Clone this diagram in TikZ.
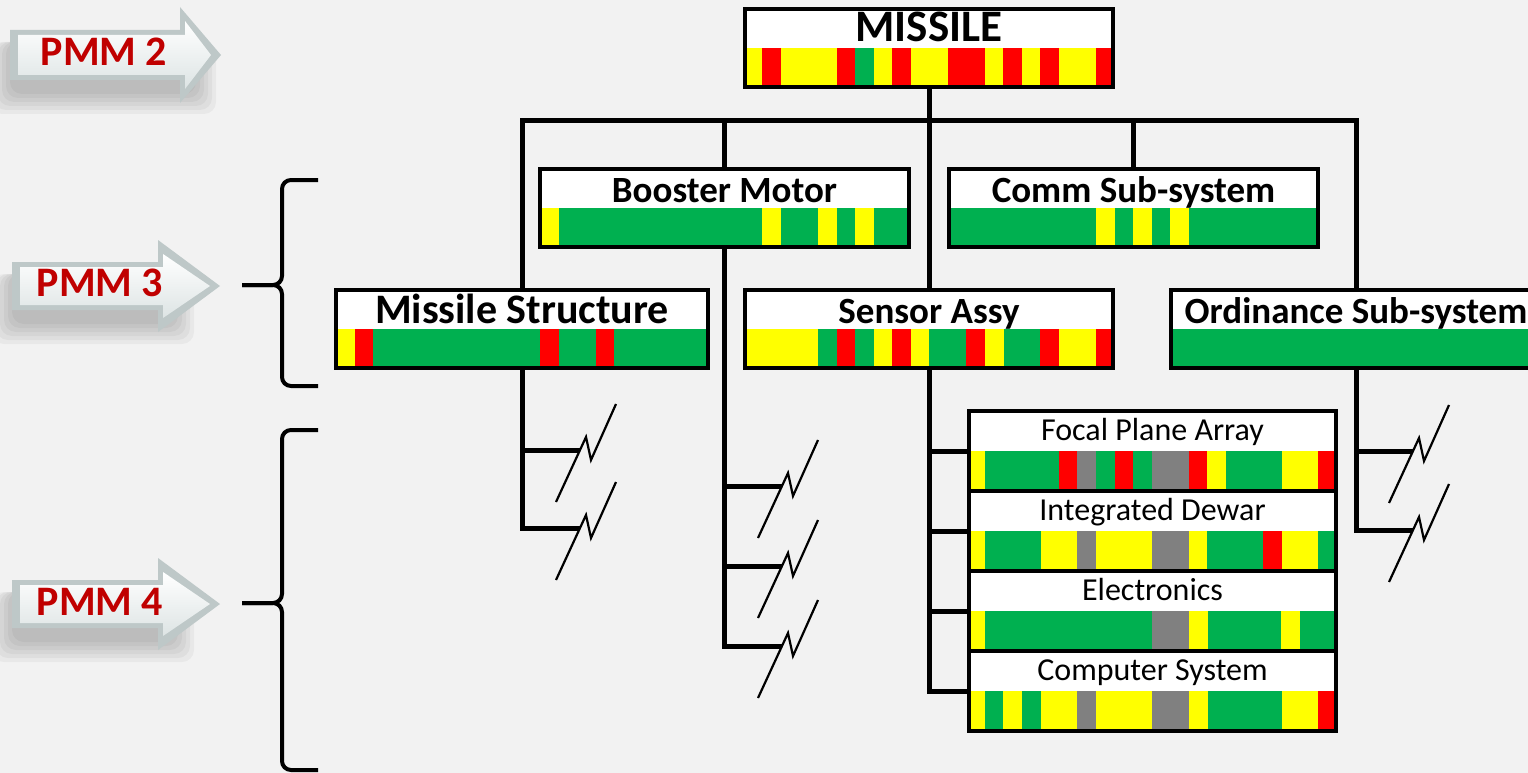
\documentclass[tikz,border=0pt]{standalone}
\usepackage{fontspec}
\setmainfont{Carlito}
\usepackage{xcolor}
\usetikzlibrary{positioning}

\definecolor{sG}{HTML}{00B050}
\definecolor{sR}{HTML}{FF0000}
\definecolor{sY}{HTML}{FFFF00}
\definecolor{sK}{HTML}{808080}
\definecolor{pagebg}{HTML}{F2F2F2}
\definecolor{pmmred}{HTML}{C00000}
\definecolor{arrowedge}{HTML}{BEC8C8}
\definecolor{arrowface}{HTML}{DDE4E4}

% status bar: top, bottom, list of x1/x2/colour
\newcommand{\statusbar}[3]{%
  \foreach \xa/\xb/\col in {#3} \fill[\col] (\xa,#1) rectangle (\xb,#2);}

% bevelled arrow: x0, yc, body half, head x, head half, tip x
\newcommand{\pmmarrow}[6]{%
  \foreach \d in {0,4,...,20}
    \fill[black, opacity=0.04, rounded corners=12pt] (#1-\d,#2-#3+12) rectangle (#4+16+\d,#2+#3+14+\d);
  \fill[arrowedge] (#1,#2-#3) -- (#4,#2-#3) -- (#4,#2-#5) -- (#6,#2) -- (#4,#2+#5) -- (#4,#2+#3) -- (#1,#2+#3) -- cycle;
  \shade[top color=white, bottom color=arrowface] (#1+8,#2-#3+5) -- (#4+5,#2-#3+5) -- (#4+5,#2-#5+14) -- (#6-10,#2) -- (#4+5,#2+#5-14) -- (#4+5,#2+#3-5) -- (#1+8,#2+#3-5) -- cycle;}

\begin{document}
\begin{tikzpicture}[
    x=1pt, y=-1pt,
    unit/.style={rectangle, fill=white, inner sep=0pt, outer sep=0pt, minimum height=78pt, text height=33pt, text depth=45pt, font=\fontsize{37}{40}\selectfont\bfseries},
    part/.style={unit, minimum height=80pt, text height=29pt, text depth=51pt, font=\fontsize{32}{35}\selectfont},
    frame/.style={draw=black, line width=4pt},
    tree/.style={draw=black, line width=5pt},
    brace/.style={draw=black, line width=4pt, rounded corners=9pt},
    pmm/.style={font=\fontsize{42}{46}\selectfont\bfseries, text=pmmred, inner sep=0pt},
    brk/.pic={\draw[black, line width=2.2pt] (-24,52) -- (0,0) -- (6,-13) -- (11,10) -- (36,-46);}
]
    \useasboundingbox (0,0) rectangle (1528,773);
    \fill[pagebg] (0,0) rectangle (1528,773);
    \clip (0,0) rectangle (1528,773);

    % PMM levels
    \pmmarrow{10}{55}{25}{180}{48}{221}
    \pmmarrow{12}{286}{24}{158}{46}{220}
    \pmmarrow{12}{604}{24}{158}{46}{220}
    \node[pmm] (pmm2) at (104,52) {PMM 2};
    \node[pmm] (pmm3) at (100,283) {PMM 3};
    \node[pmm] (pmm4) at (100,602) {PMM 4};

    \draw[brace] (318,180) -- (282,180) -- (282,285) -- (242,285);
    \draw[brace] (242,285) -- (282,285) -- (282,386) -- (318,386);
    \draw[brace] (318,430) -- (282,430) -- (282,603) -- (242,603);
    \draw[brace] (242,603) -- (282,603) -- (282,770) -- (318,770);

    % Top level
    \node[unit, minimum width=368pt, font=\fontsize{45}{48}\selectfont\bfseries] (missile) at (929,48) {MISSILE};

    % Sub-systems
    \node[unit, minimum width=369pt] (booster) at (724.5,208) {Booster Motor};
    \node[unit, minimum width=369pt] (comm) at (1133.5,208) {Comm Sub-system};
    \node[unit, minimum width=372pt, font=\fontsize{42}{45}\selectfont\bfseries] (structure) at (522,329) {Missile Structure};
    \node[unit, minimum width=368pt] (sensor) at (929,329) {Sensor Assy};
    \node[unit, minimum width=370pt] (ordinance) at (1356,329) {Ordinance Sub-system};

    % Sensor components
    \node[part, minimum width=367pt] (fpa) at (1152.5,451) {Focal Plane Array};
    \node[part, minimum width=367pt] (dewar) at (1152.5,531) {Integrated Dewar};
    \node[part, minimum width=367pt] (elec) at (1152.5,611) {Electronics};
    \node[part, minimum width=367pt] (comp) at (1152.5,691) {Computer System};

    % Status bars
    \statusbar{48}{87}{745/762/sY, 762/781/sR, 781/837/sY, 837/855/sR, 855/874/sG, 874/892/sY, 892/911/sR, 911/948/sY, 948/985/sR, 985/1003/sY, 1003/1022/sR, 1022/1040/sY, 1040/1059/sR, 1059/1096/sY, 1096/1113/sR}
    \statusbar{208}{247}{540/559/sY, 559/762/sG, 762/781/sY, 781/818/sG, 818/837/sY, 837/855/sG, 855/874/sY, 874/909/sG}
    \statusbar{208}{247}{949/1096/sG, 1096/1115/sY, 1115/1133/sG, 1133/1152/sY, 1152/1170/sG, 1170/1189/sY, 1189/1318/sG}
    \statusbar{329}{368}{336/355/sY, 355/373/sR, 373/540/sG, 540/559/sR, 559/596/sG, 596/614/sR, 614/708/sG}
    \statusbar{329}{368}{745/818/sY, 818/837/sG, 837/855/sR, 855/874/sG, 874/892/sY, 892/911/sR, 911/929/sY, 929/966/sG, 966/985/sR, 985/1004/sY, 1004/1040/sG, 1040/1059/sR, 1059/1096/sY, 1096/1113/sR}
    \statusbar{329}{368}{1171/1541/sG}
    \statusbar{451}{491}{969/985/sY, 985/1059/sG, 1059/1077/sR, 1077/1096/sK, 1096/1115/sG, 1115/1133/sR, 1133/1152/sG, 1152/1189/sK, 1189/1207/sR, 1207/1226/sY, 1226/1282/sG, 1282/1318/sY, 1318/1336/sR}
    \statusbar{531}{571}{969/985/sY, 985/1041/sG, 1041/1077/sY, 1077/1096/sK, 1096/1152/sY, 1152/1189/sK, 1189/1207/sY, 1207/1263/sG, 1263/1282/sR, 1282/1318/sY, 1318/1336/sG}
    \statusbar{611}{651}{969/985/sY, 985/1152/sG, 1152/1189/sK, 1189/1208/sY, 1208/1281/sG, 1281/1300/sY, 1300/1336/sG}
    \statusbar{691}{731}{969/985/sY, 985/1003/sG, 1003/1022/sY, 1022/1041/sG, 1041/1077/sY, 1077/1096/sK, 1096/1152/sY, 1152/1189/sK, 1189/1208/sY, 1208/1282/sG, 1282/1318/sY, 1318/1336/sR}

    \foreach \n in {missile,booster,comm,structure,sensor,ordinance,fpa,dewar,elec,comp}
        \draw[frame] (\n.north west) rectangle (\n.south east);

    % Connections
    \coordinate (bus) at (929,121);
    \draw[tree] (structure.north) |- (ordinance.north |- bus) -- (ordinance.north);
    \draw[tree] (missile.south) -- (sensor.north);
    \draw[tree] (booster.north) -- (booster.north |- bus);
    \draw[tree] (comm.north) -- (comm.north |- bus);

    \draw[tree] (sensor.south) |- (comp.west);
    \foreach \k in {fpa,dewar,elec}
        \draw[tree] (sensor.south |- \k.west) -- (\k.west);

    % Cut branches
    \coordinate (s1) at (580,450);
    \coordinate (s2) at (580,528);
    \coordinate (b1) at (782,486);
    \coordinate (b2) at (782,566);
    \coordinate (b3) at (782,646);
    \coordinate (o1) at (1413,451);
    \coordinate (o2) at (1413,530);
    \draw[tree] (structure.south) |- (s2);
    \draw[tree] (structure.south |- s1) -- (s1);
    \draw[tree] (booster.south) |- (b3);
    \draw[tree] (booster.south |- b1) -- (b1);
    \draw[tree] (booster.south |- b2) -- (b2);
    \draw[tree] (ordinance.south) |- (o2);
    \draw[tree] (ordinance.south |- o1) -- (o1);
    \foreach \c in {s1,s2,b1,b2,b3,o1,o2}
        \pic at (\c) {brk};
\end{tikzpicture}
\end{document}
